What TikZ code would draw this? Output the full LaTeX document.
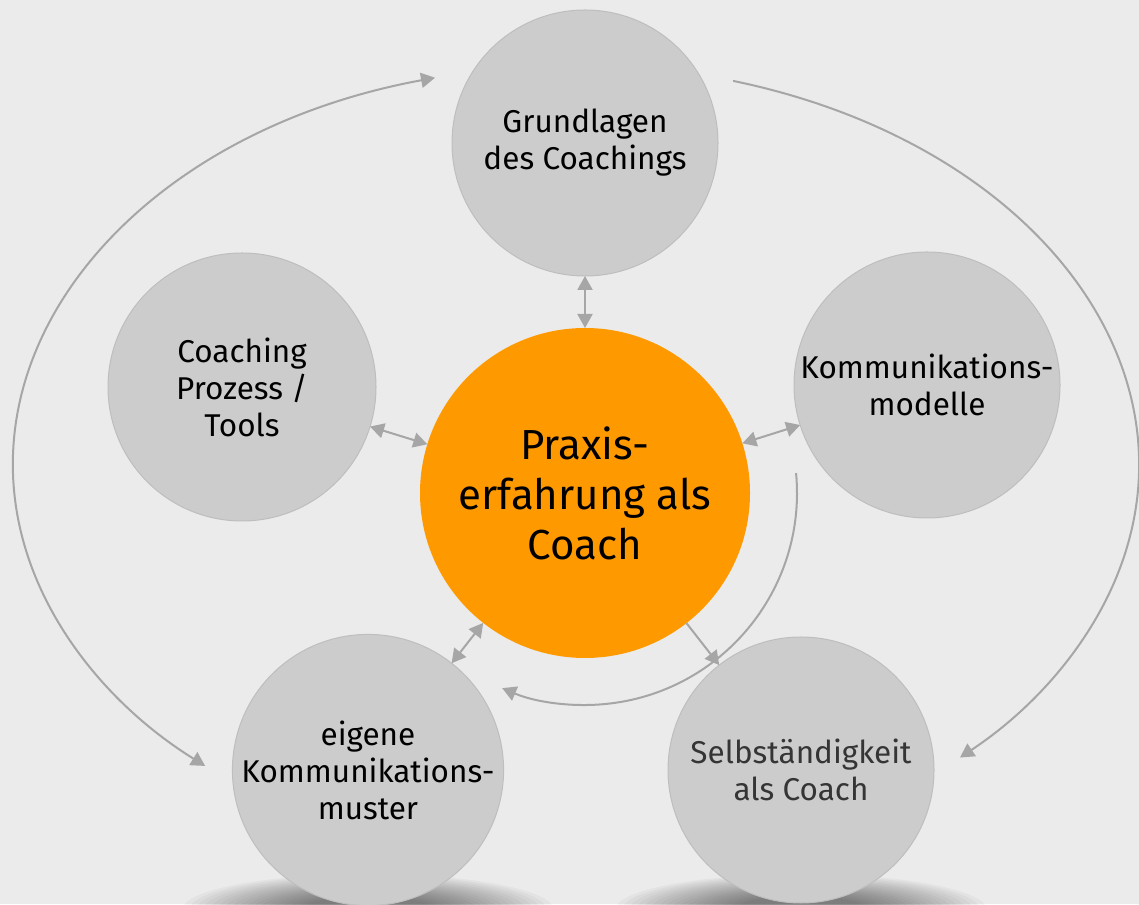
\documentclass[tikz,border=0pt]{standalone}
\usepackage{fontspec}
\setmainfont{Fira Sans}
\usetikzlibrary{arrows.meta}
\definecolor{bg}{HTML}{EBEBEB}
\definecolor{circ}{HTML}{CCCCCC}
\definecolor{circedge}{HTML}{BEBEBE}
\definecolor{orng}{HTML}{FF9900}
\definecolor{arr}{HTML}{A6A6A6}
\definecolor{txtgray}{HTML}{353535}
\begin{document}
\begin{tikzpicture}[x=1pt,y=1pt,
  >={Triangle[length=14pt,width=15pt]},
  bubble/.style={circle, fill=circ, draw=circedge, line width=1pt, minimum size=266pt, inner sep=0pt, outer sep=0pt, align=center, font=\fontsize{31.5}{37}\selectfont},
  hub/.style={circle, fill=orng, minimum size=330pt, inner sep=0pt, outer sep=0pt, align=center, font=\fontsize{42}{50}\selectfont},
  link/.style={draw=arr, line width=2pt},
  floor/.style={fill=black, opacity=0.03}
]
\useasboundingbox (0,0) rectangle (1139,904);
\fill[bg] (0,0) rectangle (1139,904);

% floor shadows (stacked soft ellipses)
\foreach \cx in {368,801}{
  \foreach \i in {0,...,17}{
    \path[floor] (\cx,-6) ellipse [x radius={186-\i*7}, y radius={36-\i*1.3}];
  }
}

% nodes
\node[bubble] (top) at (585,761) {Grundlagen\\des Coachings};
\node[bubble, minimum size=268pt] (left) at (242,517) {Coaching\\Prozess /\\Tools};
\node[bubble] (right) at (927,519) {Kommunikations-\\modelle};
\node[bubble] (bl) at (368,134) {eigene\\Kommunikations-\\muster};
\node[bubble, text=txtgray] (br) at (801,134) {Selbständigkeit\\als Coach};
\node[hub] (hub) at (585,411) {Praxis-\\erfahrung als\\Coach};

% connectors
\draw[link, <->] (top) -- (hub);
\draw[link, <->] (left) -- (hub);
\draw[link, <->] (right) -- (hub);
\draw[link, <->] (bl) -- (hub);
\draw[link, ->] (hub) -- (br);

% inner arc around the hub
\draw[link, ->] ([shift={(5.4:212)}]hub.center) arc[start angle=5.4, end angle=-113, radius=212];

% large outer arcs
\coordinate (ell) at (576,439);
\draw[link, <->] ([shift={(104.5:563 and 400)}]ell) arc[start angle=104.5, end angle=228.8, x radius=563, y radius=400];
\draw[link, ->] ([shift={(73.8:563 and 400)}]ell) arc[start angle=73.8, end angle=-47, x radius=563, y radius=400];
\end{tikzpicture}
\end{document}
